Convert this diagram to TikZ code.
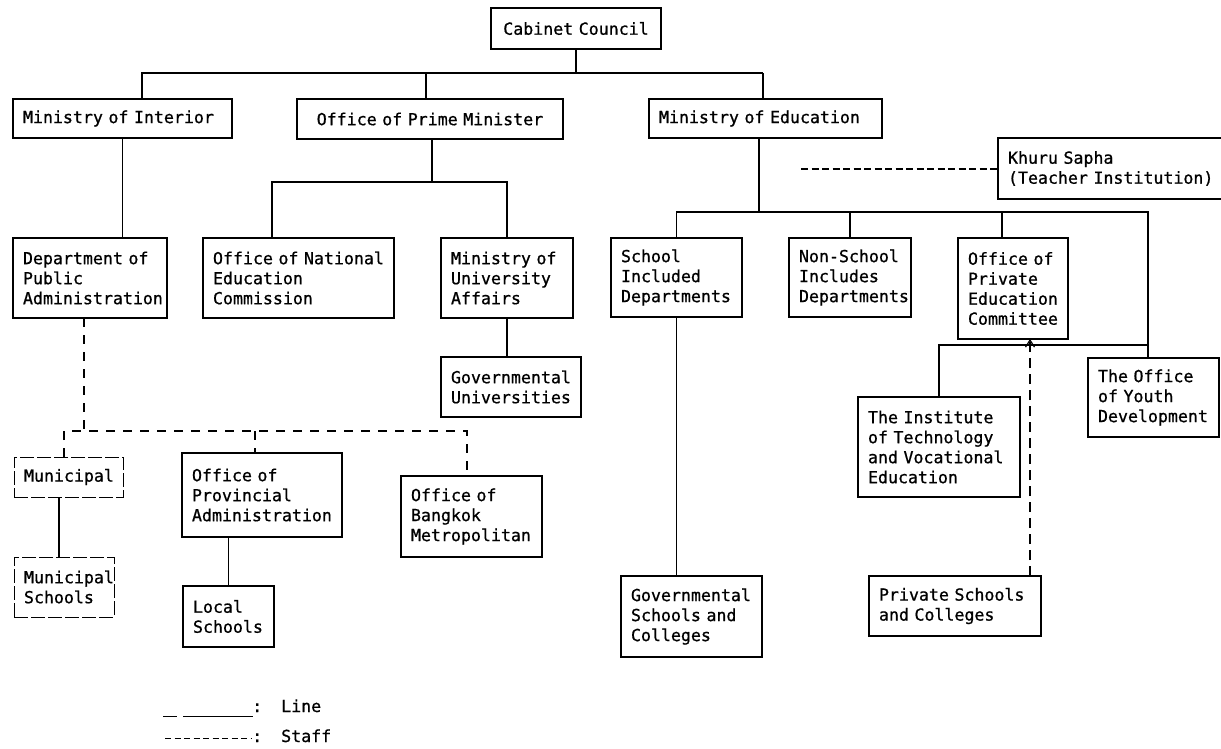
\documentclass[tikz,border=0pt]{standalone}
\usepackage{fontspec}
\newfontfamily\tyfont[FakeBold=0.8]{DejaVu Sans Mono}
\newcommand\tyset{\tyfont\fontsize{16.6}{20}\selectfont\fontdimen2\font=9.99pt\relax\fontdimen3\font=0pt\relax\fontdimen4\font=0pt\relax}
\usetikzlibrary{arrows.meta}
\newcommand\orgbox[7][]{%
 \pgfmathsetmacro\obw{#5-#3}%
 \pgfmathsetmacro\obh{#6-#4}%
 \pgfmathsetmacro\obt{#5-#3-20}%
 \node[box, anchor=north west, minimum width=\obw pt, minimum height=\obh pt, text width=\obt pt, #1] (#2) at (#3,#4) {#7};}
\begin{document}
\begin{tikzpicture}[x=1pt,y=-1pt,
  box/.style={draw, line width=1.2pt, inner xsep=10pt, inner ysep=0pt, outer sep=0pt, align=left,
    font=\tyset},
  brk/.style={line width=0.9pt, dash pattern=on 14pt off 3pt},
  txt/.style={inner sep=0pt, font=\tyset},
  ln/.style={line width=1.3pt},
  thk/.style={line width=2pt},
  stf/.style={line width=1.2pt, dash pattern=on 7pt off 3.5pt},
  stfl/.style={line width=1.2pt, dash pattern=on 9pt off 8pt},
  stfa/.style={line width=1.2pt, dash pattern=on 10pt off 6pt}]
\useasboundingbox (0,0) rectangle (1221,748);
\fill[white] (0,0) rectangle (1221,748);
% boxes
\orgbox[align=center]{cab}{491}{8}{661}{49}{Cabinet Council}
\orgbox{moi}{13}{99}{232}{138}{Ministry of Interior}
\orgbox[align=center]{opm}{297}{99}{563}{139}{Office of Prime Minister}
\orgbox{moe}{649}{99}{882}{138}{Ministry of Education}
\orgbox{khuru}{998}{138}{1228}{199}{Khuru Sapha\\(Teacher Institution)}
\orgbox{dpa}{13}{238}{167}{318}{Department of\\Public\\Administration}
\orgbox{onec}{203}{238}{394}{318}{Office of National\\Education\\Commission}
\orgbox{mua}{441}{238}{573}{318}{Ministry of\\University\\Affairs}
\orgbox{guni}{441}{357}{581}{417}{Governmental\\Universities}
\orgbox{sid}{611}{238}{742}{317}{School\\Included\\Departments}
\orgbox{nsid}{789}{238}{911}{317}{Non-School\\Includes\\Departments}
\orgbox{opec}{958}{238}{1068}{339}{Office of\\Private\\Education\\Committee}
\orgbox{youth}{1088}{358}{1219}{437}{The Office\\of Youth\\Development}
\orgbox{inst}{858}{397}{1020}{497}{The Institute\\of Technology\\and Vocational\\Education}
\orgbox{gsch}{621}{576}{762}{657}{Governmental\\Schools and\\Colleges}
\orgbox{priv}{869}{576}{1041}{636}{Private Schools\\and Colleges}
\orgbox[brk]{mun}{14}{457}{123}{497}{Municipal}
\orgbox[brk]{msch}{14}{557}{114}{617}{Municipal\\Schools}
\orgbox{opa}{182}{453}{342}{537}{Office of\\Provincial\\Administration}
\orgbox{lsch}{183}{586}{274}{647}{Local\\Schools}
\orgbox{bkk}{401}{476}{542}{557}{Office of\\Bangkok\\Metropolitan}
% top level
\coordinate (b1) at (142,73);
\coordinate (b2) at (763,73);
\coordinate (b3) at (426,73);
\draw[line width=2.8pt] (cab.south) -- (cab.south |- b1);
\draw[ln] (b1 |- moi.north) -- (b1) -- (b2);
\draw[ln] (b3) -- (b3 |- opm.north);
\draw[thk] (b2) -- (b2 |- moe.north);
% interior
\draw[ln] (moi.south) -- (moi.south |- dpa.north);
% prime minister
\coordinate (pm) at (432,182);
\coordinate (pl) at (272,182);
\draw[thk] (pm |- opm.south) -- (pm);
\draw[ln] (pl |- onec.north) -- (pl) -- (pl -| mua.north) -- (mua.north);
\draw[thk] (mua.south) -- (mua.south |- guni.north);
% education
\coordinate (me) at (759,212);
\coordinate (mr) at (1148,212);
\coordinate (oc) at (1002,212);
\coordinate (ib) at (1148,345);
\draw[thk] (me |- moe.south) -- (me);
\draw[ln] (sid.north) -- (sid.north |- me) -- (mr) -- (mr |- youth.north);
\draw[ln] (nsid.north) -- (nsid.north |- me);
\draw[ln] (oc) -- (oc |- opec.north);
\draw[ln] (ib) -- (ib -| inst.north) -- (inst.north);
\draw[ln] (sid.south) -- (sid.south |- gsch.north);
% staff to Khuru Sapha
\coordinate (ks) at (801,169);
\draw[stf] (ks) -- (ks -| khuru.west);
% private schools staff arrow
\coordinate (pa) at ([xshift=-11pt]priv.north east);
\draw[stfa, -{Straight Barb[length=7pt,width=9pt,line width=1.2pt]}] (pa) -- (pa |- opec.south);
% public administration staff lines
\coordinate (dd) at (84,431);
\coordinate (dl) at (64,431);
\coordinate (dr) at (467,431);
\coordinate (dm) at (255,431);
\draw[stfl] (dd |- dpa.south) -- (dd);
\draw[stfl] (dl |- mun.north) -- (dl) -- (dr) -- (dr |- bkk.north);
\draw[stfl] (dm) -- (dm |- opa.north);
% local lines
\coordinate (mm) at (59,500);
\draw[ln] (mm |- mun.south) -- (mm |- msch.north);
\draw[ln] (lsch.north |- opa.south) -- (lsch.north);
% legend
\coordinate (la) at (163,716);
\coordinate (lb) at (177,716);
\coordinate (lc) at (183,716);
\coordinate (ld) at (253,716);
\draw[line width=1pt] (la) -- (lb);
\draw[line width=1pt] (lc) -- (ld);
\node[txt, anchor=base west] (lgc1) at (252,712) {:};
\node[txt, anchor=base west] (lgl) at (281,712) {Line};
\coordinate (le) at (165,738);
\coordinate (lf) at (251,738);
\draw[line width=1pt, dash pattern=on 6pt off 3.5pt] (le) -- (lf);
\node[txt, anchor=base west] (lgc2) at (252,742) {:};
\node[txt, anchor=base west] (lgs) at (281,742) {Staff};
\end{tikzpicture}
\end{document}
